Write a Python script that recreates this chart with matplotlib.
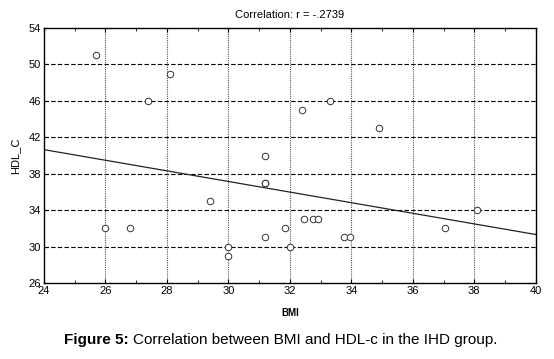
import numpy as np
import matplotlib.pyplot as plt
from matplotlib.ticker import MultipleLocator

plt.rcParams['font.family'] = ['Liberation Sans', 'DejaVu Sans']

# BMI vs HDL_C
bmi = [25.7, 28.1, 27.4, 31.2, 32.4, 33.3, 34.9, 31.2, 31.2, 29.4, 26.0, 26.8,
       30.0, 30.0, 31.2, 31.85, 32.0, 32.45, 32.75, 32.9, 33.75, 33.95, 37.05, 38.1]
hdl = [51, 49, 46, 40, 45, 46, 43, 37, 37, 35, 32, 32,
       30, 29, 31, 32, 30, 33, 33, 33, 31, 31, 32, 34]

x_ticks = [24, 26, 28, 30, 32, 34, 36, 38, 40]
y_ticks = [26, 30, 34, 38, 42, 46, 50, 54]
title = "Correlation: r = -.2739"

fig = plt.figure(figsize=(5.54, 3.59), dpi=100)
ax = fig.add_axes([0.0794, 0.2117, 0.8876, 0.7103])

# regression line
slope, icpt = np.polyfit(bmi, hdl, 1)
xl = np.array([24, 40])
ax.plot(xl, icpt + slope * xl, color='#222222', lw=0.9, zorder=2)

ax.scatter(bmi, hdl, s=22, facecolors='white', edgecolors='#333333', linewidths=0.7, zorder=3)

ax.set_xlim(24, 40)
ax.set_ylim(26, 54)
ax.set_xticks(x_ticks)
ax.set_yticks(y_ticks)
ax.xaxis.set_minor_locator(MultipleLocator(1))
ax.tick_params(which='both', direction='in', top=True, right=False, labelsize=8, pad=2)
ax.tick_params(which='major', length=3)
ax.tick_params(which='minor', length=2)

for v in y_ticks[1:-1]:
    ax.axhline(v, color='black', lw=0.8, ls=(0, (4, 2)), zorder=1)
for v in x_ticks[1:-1]:
    ax.axvline(v, color='#555555', lw=0.8, ls=(0, (1, 1)), zorder=1)

for s in ax.spines.values():
    s.set_linewidth(1.0)

ax.set_title(title, fontsize=8, pad=7)
ax.set_xlabel("BMI", fontsize=7, fontweight='bold', labelpad=9)
ax.set_ylabel("HDL_C", fontsize=8, labelpad=6)

# caption
fig.text(129 / 554, 0.052, "Figure 5:", ha='right', va='center', fontsize=11, fontweight='bold')
fig.text(133 / 554, 0.052, "Correlation between BMI and HDL-c in the IHD group.",
         ha='left', va='center', fontsize=11)

fig.savefig('out.png', dpi=100)
